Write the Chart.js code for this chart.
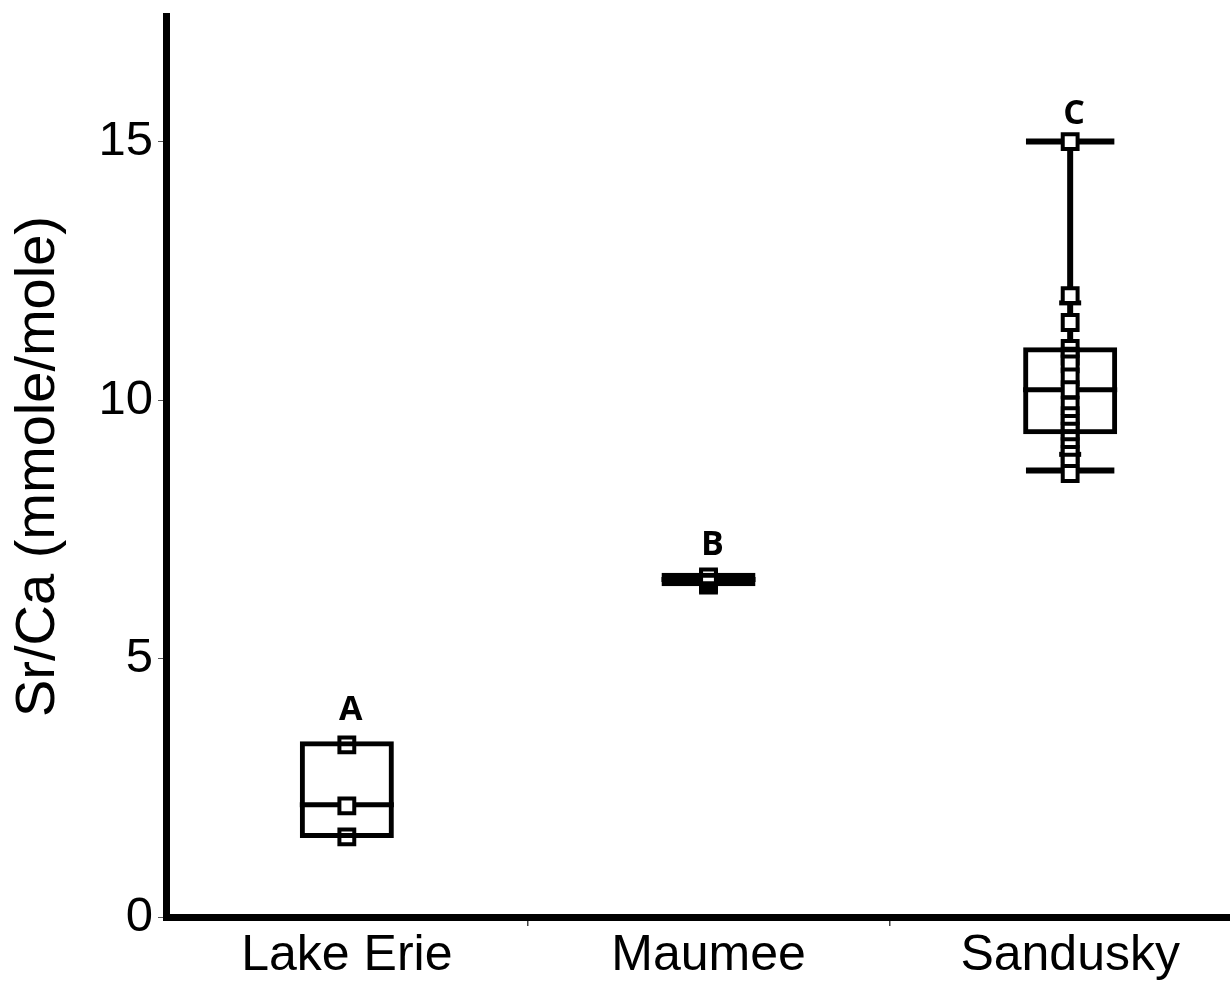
<!DOCTYPE html>
<html>
<head>
<meta charset="utf-8">
<script src="https://cdn.jsdelivr.net/npm/chart.js@4.4.1/dist/chart.umd.min.js"></script>
<style>
  html, body { margin: 0; padding: 0; background: #fff; overflow: hidden; }
  #myChart { display: block; }
</style>
</head>
<body>
<canvas id="myChart" width="1267" height="982"></canvas>
<script>
// groups on the x axis
var categories = ['Lake Erie', 'Maumee', 'Sandusky'];

// box summary
var boxLow = [1.53, 6.40, 9.34];
var boxHigh = [3.40, 6.66, 11.02];
var medians = [2.17, 6.53, 10.20];
var whiskerLow = [1.53, 6.40, 8.64];
var whiskerHigh = [3.40, 6.66, 15.0];

// significance letters
var groupLetters = ['A', 'B', 'C'];
var letterY = [4.0, 7.19, 15.52];

// individual samples
var lakeEriePoints = [3.33, 2.15, 1.55];
var maumeePoints = [6.42, 6.45, 6.48, 6.50, 6.52, 6.55, 6.58];
var sanduskyPoints = [15.0, 12.02, 11.5, 11.0, 10.85, 10.7, 10.45, 10.2, 9.9, 9.7, 9.55, 9.4, 9.25, 9.1, 8.95, 8.8, 8.58];
var sanduskyMarks = [11.88, 8.95];

var yTicks = [0, 5, 10, 15];

var FONT = "'Liberation Sans', Arial, sans-serif";

var pointData = [];
[lakeEriePoints, maumeePoints, sanduskyPoints].forEach(function (vals, i) {
    vals.forEach(function (v) { pointData.push({ x: categories[i], y: v }); });
});
var markData = sanduskyMarks.map(function (v) { return { x: categories[2], y: v }; });

function seg(ctx, x1, y1, x2, y2) {
    ctx.beginPath();
    ctx.moveTo(x1, y1);
    ctx.lineTo(x2, y2);
    ctx.stroke();
}

var boxExtras = {
    id: 'boxExtras',
    beforeDatasetsDraw: function (chart) {
        var ctx = chart.ctx;
        var y = chart.scales.y;
        var bars = chart.getDatasetMeta(0).data;
        ctx.save();
        ctx.strokeStyle = '#000';
        ctx.lineCap = 'butt';
        bars.forEach(function (bar, i) {
            var half = bar.width / 2;
            var capHalf = half * 0.94;
            ctx.lineWidth = 6;
            if (whiskerHigh[i] > boxHigh[i]) {
                var yTop = y.getPixelForValue(whiskerHigh[i]);
                seg(ctx, bar.x, y.getPixelForValue(boxHigh[i]), bar.x, yTop);
                seg(ctx, bar.x - capHalf, yTop, bar.x + capHalf, yTop);
            }
            if (whiskerLow[i] < boxLow[i]) {
                var yBot = y.getPixelForValue(whiskerLow[i]);
                seg(ctx, bar.x, y.getPixelForValue(boxLow[i]), bar.x, yBot);
                seg(ctx, bar.x - capHalf, yBot, bar.x + capHalf, yBot);
            }
            ctx.lineWidth = 5;
            var ym = y.getPixelForValue(medians[i]);
            seg(ctx, bar.x - half, ym, bar.x + half, ym);
        });
        ctx.restore();
    },
    afterDatasetsDraw: function (chart) {
        var ctx = chart.ctx;
        var x = chart.scales.x, y = chart.scales.y;
        ctx.save();
        ctx.fillStyle = '#000';
        ctx.font = "bold 34px 'Open Sans', sans-serif";
        ctx.textAlign = 'center';
        ctx.textBaseline = 'middle';
        groupLetters.forEach(function (t, i) {
            ctx.fillText(t, x.getPixelForValue(i) + 4, y.getPixelForValue(letterY[i]));
        });
        ctx.restore();
    }
};

var ctx = document.getElementById('myChart').getContext('2d');
var myChart = new Chart(ctx, {
    type: 'bar',
    data: {
        labels: categories,
        datasets: [{
            label: 'box',
            data: boxLow.map(function (lo, i) { return [lo, boxHigh[i]]; }),
            backgroundColor: 'rgba(0,0,0,0)',
            borderColor: '#000',
            borderWidth: 5,
            borderSkipped: false,
            grouped: false,
            categoryPercentage: 1,
            barPercentage: 0.26
        }, {
            type: 'line',
            label: 'samples',
            data: pointData,
            showLine: false,
            pointStyle: 'rect',
            pointRadius: 10.5,
            pointBorderWidth: 4,
            pointBackgroundColor: '#fff',
            pointBorderColor: '#000'
        }, {
            type: 'line',
            label: 'marks',
            data: markData,
            showLine: false,
            pointStyle: 'line',
            pointRadius: 11,
            pointBorderWidth: 5,
            pointBorderColor: '#000'
        }]
    },
    options: {
        responsive: false,
        animation: false,
        events: [],
        layout: { padding: { top: 14, right: 0, bottom: 0, left: 0 } },
        plugins: {
            legend: { display: false },
            tooltip: { enabled: false }
        },
        scales: {
            x: {
                border: { color: '#000', width: 7 },
                grid: {
                    display: true,
                    drawOnChartArea: false,
                    tickLength: 9,
                    lineWidth: 1.5,
                    color: function (c) { return c.index === 0 ? 'rgba(0,0,0,0)' : '#444'; }
                },
                ticks: { padding: 0, color: '#000', font: { family: FONT, size: 50 } },
                afterFit: function (s) {
                    s.height = 65;
                    s.paddingLeft = 0;
                    s.paddingRight = 0;
                }
            },
            y: {
                min: 0,
                max: 17.43,
                border: { color: '#000', width: 7 },
                grid: { display: true, drawOnChartArea: false, tickLength: 8, lineWidth: 1, color: '#555' },
                afterBuildTicks: function (s) { s.ticks = yTicks.map(function (v) { return { value: v }; }); },
                ticks: { padding: 5, color: '#000', font: { family: FONT, size: 49 } },
                title: {
                    display: true,
                    text: 'Sr/Ca (mmole/mole)',
                    color: '#000',
                    font: { family: FONT, size: 56 },
                    padding: { top: 5, bottom: 0 }
                },
                afterFit: function (s) {
                    s.width = 166;
                    s.paddingTop = 0;
                    s.paddingBottom = 0;
                }
            }
        }
    },
    plugins: [boxExtras]
});
</script>
</body>
</html>
